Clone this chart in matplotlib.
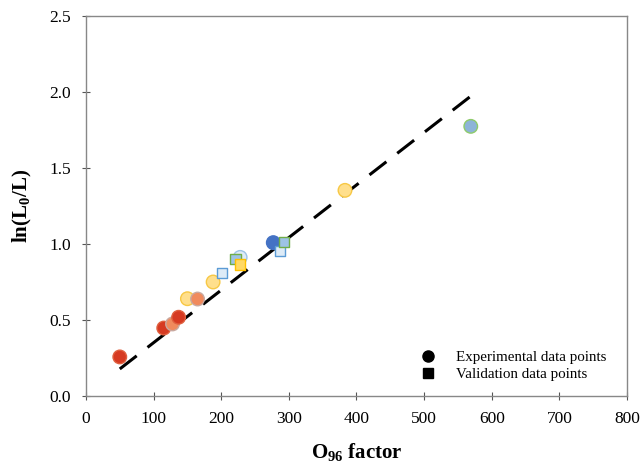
import matplotlib
matplotlib.use("Agg")
import matplotlib.pyplot as plt
from matplotlib.lines import Line2D

plt.rcParams['font.family'] = ['Liberation Serif', 'DejaVu Serif']
plt.rcParams['mathtext.fontset'] = 'custom'
plt.rcParams['mathtext.rm'] = 'Liberation Serif'
plt.rcParams['mathtext.bf'] = 'Liberation Serif:bold'

# ---------------------------------------------------------
# Datos
# ---------------------------------------------------------
# puntos experimentales (circulos)
exp_x = [50, 115, 128, 137, 150, 165, 188, 228, 277, 383, 569]
exp_y = [0.257, 0.447, 0.474, 0.518, 0.640, 0.638, 0.750, 0.912, 1.009, 1.353, 1.774]
exp_face = ['#D63A22', '#D63A22', '#F08A5D', '#D63A22', '#FFDF8C', '#F08A5D',
            '#FFDF8C', '#DDEBF7', '#4472C4', '#FFDF8C', '#8DB4D8']
exp_edge = ['#E0603F', '#E0603F', '#C9A9A0', '#E0603F', '#F7C845', '#C9A9A0',
            '#F7C845', '#9DC3E6', '#4472C4', '#F7C845', '#8FCB6B']

# puntos de validacion (cuadrados)
val_x = [201, 221, 228, 287, 293]
val_y = [0.807, 0.899, 0.866, 0.952, 1.013]
val_face = ['#DDEBF7', '#9DC3E6', '#FFD966', '#DDEBF7', '#9DC3E6']
val_edge = ['#5B9BD5', '#70AD47', '#FFC000', '#5B9BD5', '#70AD47']

# ajuste lineal
fit_slope = 0.003458
fit_intercept = 0.005
fit_range = [50, 570]

# ---------------------------------------------------------
# Grafica
# ---------------------------------------------------------
fig = plt.figure(figsize=(6.43, 4.65), dpi=100)
ax = fig.add_axes([0.1337, 0.1484, 0.8414, 0.8172])

fit_y = [fit_slope * x + fit_intercept for x in fit_range]
ax.plot(fit_range, fit_y, color='black', linewidth=2.2, dashes=(7, 4.5), zorder=1)

ax.scatter(exp_x, exp_y, s=95, c=exp_face, edgecolors=exp_edge, linewidths=1.0,
           marker='o', zorder=3)
ax.scatter(val_x, val_y, s=55, c=val_face, edgecolors=val_edge, linewidths=1.0,
           marker='s', zorder=4)

ax.set_xlim(0, 800)
ax.set_ylim(0, 2.5)
ax.set_xticks(range(0, 801, 100))
ax.set_yticks([0.0, 0.5, 1.0, 1.5, 2.0, 2.5])
ax.set_yticklabels([f"{v:.1f}" for v in [0.0, 0.5, 1.0, 1.5, 2.0, 2.5]])
ax.tick_params(direction='inout', length=6, width=0.8, labelsize=12.5, color='#555555', pad=8)

for s in ax.spines.values():
    s.set_color('#888888')
    s.set_linewidth(1.0)

ax.set_xlabel(r"O$_{\mathbf{96}}$ factor", fontsize=15, fontweight='bold', labelpad=10)
ax.set_ylabel(r"ln(L$_{\mathbf{0}}$/L)", fontsize=15, fontweight='bold', labelpad=11)

handles = [
    Line2D([], [], marker='o', color='black', linestyle='none', markersize=8),
    Line2D([], [], marker='s', color='black', linestyle='none', markersize=7),
]
ax.legend(handles, ["Experimental data points", "Validation data points"],
          loc='lower right', bbox_to_anchor=(0.99, 0.0), frameon=False,
          fontsize=10.8, handletextpad=0.9, labelspacing=0.2, borderpad=0.5)

plt.savefig("out.png", dpi=100)
